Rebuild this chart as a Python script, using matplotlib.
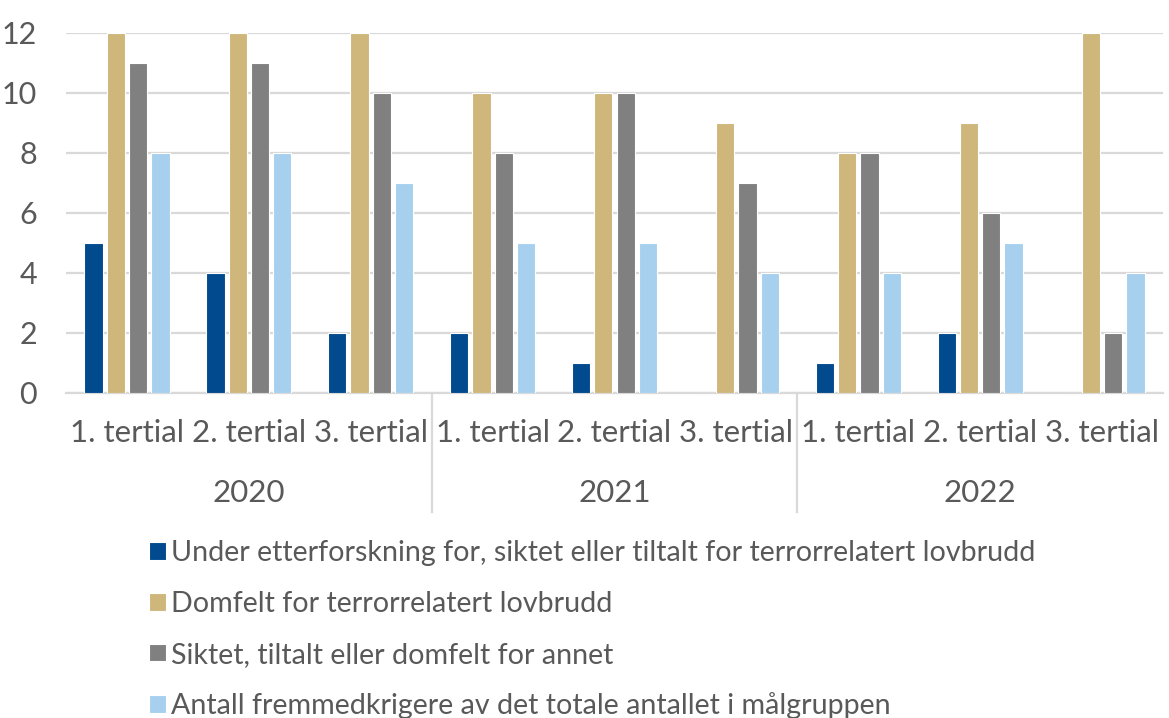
import matplotlib.pyplot as plt
import numpy as np

# Counts per tertial, 2020-2022
years = ['2020', '2021', '2022']
tertials = ['1. tertial', '2. tertial', '3. tertial']

etterforskning = [5, 4, 2, 2, 1, 0, 1, 2, 0]
domfelt_terror = [12, 12, 12, 10, 10, 9, 8, 9, 12]
domfelt_annet = [11, 11, 10, 8, 10, 7, 8, 6, 2]
fremmedkrigere = [8, 8, 7, 5, 5, 4, 4, 5, 4]

series = [
    ('Under etterforskning for, siktet eller tiltalt for terrorrelatert lovbrudd', etterforskning, '#004A8D'),
    ('Domfelt for terrorrelatert lovbrudd', domfelt_terror, '#CFB77B'),
    ('Siktet, tiltalt eller domfelt for annet', domfelt_annet, '#808080'),
    ('Antall fremmedkrigere av det totale antallet i målgruppen', fremmedkrigere, '#A7D0EE'),
]

text_color = '#595959'
grid_color = '#D9D9D9'
plt.rcParams['font.family'] = ['Lato', 'DejaVu Sans']

fig = plt.figure(figsize=(11.69, 7.18), dpi=100)
ax = fig.add_axes([66 / 1169, 1 - 393 / 718, (1163 - 66) / 1169, 360 / 718])

x = np.arange(len(etterforskning))
step = 0.183
width = 0.15
handles = []
for i, (label, values, color) in enumerate(series):
    b = ax.bar(x + (i - 1.5) * step, values, width, color=color,
               edgecolor='white', linewidth=0.8, label=label, zorder=3)
    handles.append(b)

ax.set_xlim(-0.5, len(x) - 0.5)
ax.set_ylim(0, 12)
ax.set_yticks(range(0, 13, 2))
ax.yaxis.grid(True, color=grid_color, linewidth=1.6, zorder=0)
ax.set_axisbelow(True)
for s in ['top', 'right', 'left']:
    ax.spines[s].set_visible(False)
ax.spines['bottom'].set_color(grid_color)
ax.spines['bottom'].set_linewidth(1.6)
ax.tick_params(axis='y', length=0, pad=21, labelsize=22, labelcolor=text_color)
ax.set_xticks([])

# two-level category labels
trans = ax.get_xaxis_transform()
for j in x:
    ax.text(j, -0.111, tertials[j % 3], transform=trans, ha='center', va='center',
            fontsize=22.5, color=text_color)
for k, yr in enumerate(years):
    ax.text(3 * k + 1, -0.278, yr, transform=trans, ha='center', va='center',
            fontsize=22.5, color=text_color)
for sep in [2.5, 5.5]:
    ax.plot([sep, sep], [0, -0.33], transform=trans, color=grid_color,
            linewidth=1.6, clip_on=False)

fig.legend(handles=handles, loc='upper left', bbox_to_anchor=(138 / 1169, 1 - 529 / 718),
           frameon=False, fontsize=20.6, labelcolor=text_color, labelspacing=0.86,
           handlelength=0.58, handleheight=0.58, handletextpad=0.18, borderaxespad=0)

fig.savefig('out.png', dpi=100)
